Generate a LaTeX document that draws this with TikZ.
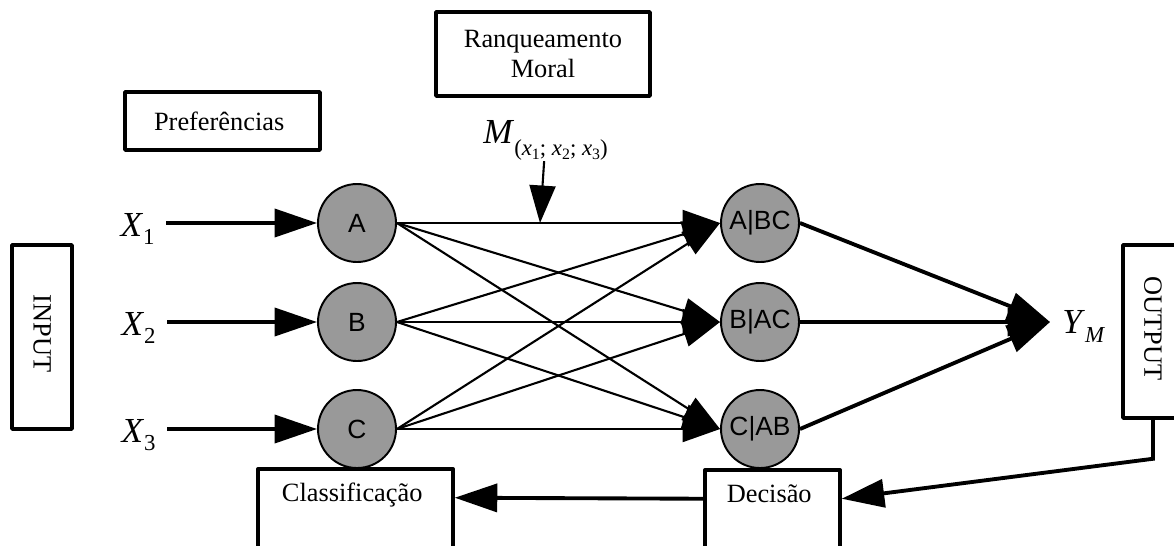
\documentclass[tikz,border=0pt]{standalone}
\usepackage{fontspec}
\setmainfont{Liberation Serif}
\newfontfamily\fontesans{Liberation Sans}
\usetikzlibrary{arrows.meta}
\definecolor{cinza}{RGB}{153, 153, 153}
\newcommand{\varind}[3][0.5ex]{\textit{#2}\raisebox{-#1}{\fontsize{13}{13}\selectfont #3}}
\newcommand{\xind}[1]{\textit{x}\raisebox{-0.38ex}{\fontsize{9}{9}\selectfont #1}}

\begin{document}
\begin{tikzpicture}[
    caixa/.style={
        draw,
        line width=2pt,
        line join=round,
        align=center,
        inner sep=0pt,
        font=\fontsize{15}{17}\selectfont
    },
    circulo/.style={
        draw,
        circle,
        fill=cinza,
        line width=1.1pt,
        minimum size=1.56cm,
        inner sep=0pt,
        font=\fontesans\fontsize{15}{15}\selectfont
    },
    rotulo/.style={
        font=\fontsize{20}{20}\selectfont,
        inner sep=0pt
    },
    seta/.style={
        -{Triangle[length=0.75cm,width=0.52cm]},
        line width=1.2pt
    },
    setagrossa/.style={
        -{Triangle[length=0.85cm,width=0.56cm]},
        line width=2.2pt
    }
]

\useasboundingbox (0,0) rectangle (23.48,-10.9);

% caixas de texto
\node[caixa, minimum width=3.9cm, minimum height=1.16cm] (pref) at (4.45,-2.42)
{
    Preferências
};

\node[caixa, minimum width=4.28cm, minimum height=1.68cm] (ranq) at (10.86,-1.08)
{
    Ranqueamento\\
    Moral
};

\node[caixa, rotate=-90, minimum width=3.68cm, minimum height=1.2cm] (input) at (0.84,-6.74)
{
    INPUT
};

\node[caixa, rotate=-90, minimum width=3.46cm, minimum height=1.2cm] (output) at (23.06,-6.63)
{
    OUTPUT
};

\node[caixa, anchor=north, minimum width=2.7cm, text height=0.66cm, text depth=1.3cm] (decisao) at (15.45,-9.36)
{
    Decisão
};

\node[caixa, anchor=north, minimum width=3.9cm, text height=0.66cm, text depth=1.3cm] (classif) at (7.11,-9.34)
{
    Classificação
};

% camadas
\node[circulo] (a) at (7.14,-4.46) {A};
\node[circulo] (b) at (7.14,-6.44) {B};
\node[circulo] (c) at (7.14,-8.58) {C};

\node[circulo] (abc) at (15.2,-4.46) {A|BC};
\node[circulo] (bac) at (15.2,-6.44) {B|AC};
\node[circulo] (cab) at (15.2,-8.58) {C|AB};

% rotulos
\node[rotulo, anchor=east, inner xsep=0.22cm, text height=0.7cm, text depth=0.16cm] (x1) at (3.32,-4.46) {\varind{X}{1}};
\node[rotulo, anchor=east, inner xsep=0.22cm, text height=0.7cm, text depth=0.16cm] (x2) at (3.34,-6.44) {\varind{X}{2}};
\node[rotulo, anchor=east, inner xsep=0.22cm, text height=0.7cm, text depth=0.16cm] (x3) at (3.34,-8.58) {\varind{X}{3}};

\node[rotulo, anchor=west, inner xsep=0.24cm, text height=0.6cm, text depth=0.16cm] (ylab) at (21.0,-6.44) {\varind[0.6ex]{Y}{\textit{M}}};

\node[rotulo, anchor=base west] (mlab) at (9.66,-2.86)
{
    \varind[0.8ex]{M}{(\xind{1}; \xind{2}; \xind{3})}
};
\coordinate (mtip) at (10.8,-4.46);

% entradas
\draw[setagrossa] (x1.east) -- (a.west);
\draw[setagrossa] (x2.east) -- (b.west);
\draw[setagrossa] (x3.east) -- (c.west);

% ligacoes entre camadas
\foreach \i in {a,b,c}
    \foreach \j in {abc,bac,cab}
        \draw[seta] (\i.east) -- (\j.west);

\draw[seta] (mlab) -- (mtip);

% saidas
\foreach \j in {abc,bac,cab}
    \draw[setagrossa] (\j.east) -- (ylab.west);

\draw[setagrossa] (output.east) -- ++(0,-0.78) -- (decisao.mid east);
\draw[setagrossa] (decisao.mid west) -- (classif.mid east);

\end{tikzpicture}
\end{document}
